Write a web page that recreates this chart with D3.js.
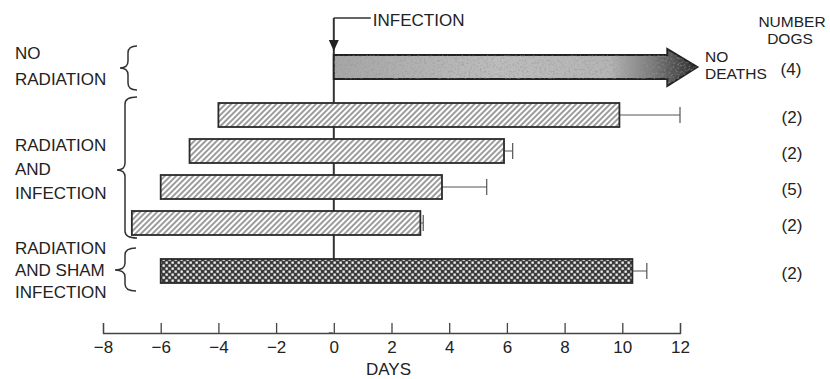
<!DOCTYPE html>
<html>
<head>
  <meta charset="UTF-8">
  <title>Survival of dogs</title>
  <script src="https://d3js.org/d3.v7.min.js"></script>
  <style>
    body {
      margin: 0;
      background: #fff;
      font-family: "Liberation Sans", Arial, sans-serif;
    }
    text {
      fill: #222;
      font-size: 17px;
    }
    .small {
      font-size: 15.5px;
    }
    .bar {
      stroke: #2a2a2a;
      stroke-width: 1.8;
    }
    .err {
      stroke: #555;
      stroke-width: 1.2;
    }
    .x-axis path, .x-axis line {
      stroke: #444;
      stroke-width: 1.3;
    }
    .x-axis text {
      font-size: 17px;
      fill: #222;
    }
    .brace {
      fill: none;
      stroke: #333;
      stroke-width: 1.5;
    }
  </style>
</head>
<body>
  <svg id="chart" width="830" height="379"></svg>
  <script>
    // rows from top to bottom
    const rowGroup = [0, 1, 1, 1, 1, 2];
    const barStart = [0, -4, -5, -6, -7, -6];
    const barEnd = [12.6, 9.9, 5.9, 3.75, 3.0, 10.35];
    const errEnd = [null, 12.0, 6.2, 5.3, 3.1, 10.85];
    const dogs = [4, 2, 2, 5, 2, 2];

    const groupLabels = [
      ["NO", "RADIATION"],
      ["RADIATION", "AND", "INFECTION"],
      ["RADIATION", "AND SHAM", "INFECTION"]
    ];
    const xTicks = [-8, -6, -4, -2, 0, 2, 4, 6, 8, 10, 12];

    const svg = d3.select("#chart");

    const x = d3.scaleLinear().domain([-8, 12]).range([103, 680]);
    // row index plus a third of a row per group gap
    const yRow = d3.scaleLinear().domain([0, 1]).range([67, 103]);
    const rowY = i => yRow(i + rowGroup[i] / 3);
    const barH = 24;

    const defs = svg.append("defs");

    const hatch = defs.append("pattern")
      .attr("id", "hatch")
      .attr("patternUnits", "userSpaceOnUse")
      .attr("width", 4).attr("height", 4)
      .attr("patternTransform", "rotate(45)");
    hatch.append("rect").attr("width", 4).attr("height", 4).attr("fill", "#fff");
    hatch.append("line")
      .attr("x1", 1).attr("y1", 0).attr("x2", 1).attr("y2", 4)
      .attr("stroke", "#4a4a4a").attr("stroke-width", 1.1);

    const checks = defs.append("pattern")
      .attr("id", "checks")
      .attr("patternUnits", "userSpaceOnUse")
      .attr("width", 6).attr("height", 6);
    checks.append("rect").attr("width", 6).attr("height", 6).attr("fill", "#3c3c3c");
    checks.append("rect").attr("x", 0.5).attr("y", 0.5).attr("width", 2.3).attr("height", 2.3).attr("fill", "#f2f2f2");
    checks.append("rect").attr("x", 3.5).attr("y", 3.5).attr("width", 2.3).attr("height", 2.3).attr("fill", "#f2f2f2");

    const grad = defs.append("linearGradient")
      .attr("id", "arrowGrad")
      .attr("x1", "0%").attr("x2", "100%");
    grad.append("stop").attr("offset", "0%").attr("stop-color", "#a6a6a6");
    grad.append("stop").attr("offset", "45%").attr("stop-color", "#bdbdbd");
    grad.append("stop").attr("offset", "76%").attr("stop-color", "#b5b5b5");
    grad.append("stop").attr("offset", "88%").attr("stop-color", "#787878");
    grad.append("stop").attr("offset", "100%").attr("stop-color", "#2a2a2a");

    const noise = defs.append("filter").attr("id", "speckle")
      .attr("x", 0).attr("y", 0).attr("width", "100%").attr("height", "100%");
    noise.append("feTurbulence")
      .attr("type", "fractalNoise").attr("baseFrequency", 0.45)
      .attr("numOctaves", 3).attr("seed", 5).attr("result", "t");
    noise.append("feColorMatrix")
      .attr("in", "t").attr("type", "matrix")
      .attr("values", "0 0 0 0 0.3  0 0 0 0 0.3  0 0 0 0 0.3  1.6 0 0 0 -0.75")
      .attr("result", "n");
    noise.append("feComposite").attr("in", "n").attr("in2", "SourceGraphic").attr("operator", "in");

    // zero line (infection day)
    svg.append("line")
      .attr("x1", x(0)).attr("x2", x(0))
      .attr("y1", 18).attr("y2", rowY(5) - barH / 2)
      .attr("stroke", "#333").attr("stroke-width", 2);

    // infection leader
    svg.append("line")
      .attr("x1", x(0)).attr("x2", x(0) + 37)
      .attr("y1", 18).attr("y2", 18)
      .attr("stroke", "#333").attr("stroke-width", 1.3);
    svg.append("path")
      .attr("d", `M${x(0) - 5},40 L${x(0) + 5},40 L${x(0)},51 Z`)
      .attr("fill", "#222");
    svg.append("text")
      .attr("x", x(0) + 39).attr("y", 26)
      .text("INFECTION");

    // arrow for the no radiation row
    const ay = rowY(0);
    const tip = x(barEnd[0]);
    const hb = tip - 30;
    const arrowD = `M${x(barStart[0])},${ay - barH / 2} L${hb},${ay - barH / 2} L${hb},${ay - 18}
      L${tip},${ay} L${hb},${ay + 19} L${hb},${ay + barH / 2} L${x(barStart[0])},${ay + barH / 2} Z`;
    svg.append("path").attr("d", arrowD)
      .attr("fill", "url(#arrowGrad)").attr("stroke", "#222").attr("stroke-width", 2)
      .attr("stroke-linejoin", "miter");
    defs.append("clipPath").attr("id", "arrowClip").append("path").attr("d", arrowD);
    svg.append("rect")
      .attr("x", x(0)).attr("y", ay - 20)
      .attr("width", tip - x(0)).attr("height", 40)
      .attr("clip-path", "url(#arrowClip)")
      .attr("fill", "#888")
      .attr("filter", "url(#speckle)");

    // bars
    const rows = d3.range(1, barStart.length);
    svg.selectAll(".err")
      .data(rows)
      .enter()
      .append("path")
      .attr("class", "err")
      .attr("fill", "none")
      .attr("d", i => `M${x(barEnd[i])},${rowY(i)} H${x(errEnd[i])} M${x(errEnd[i])},${rowY(i) - 8} V${rowY(i) + 8}`);

    svg.selectAll(".bar")
      .data(rows)
      .enter()
      .append("rect")
      .attr("class", "bar")
      .attr("x", i => x(barStart[i]))
      .attr("y", i => rowY(i) - barH / 2)
      .attr("width", i => x(barEnd[i]) - x(barStart[i]))
      .attr("height", barH)
      .attr("fill", i => rowGroup[i] === 2 ? "url(#checks)" : "url(#hatch)");

    // NO DEATHS
    svg.append("text").attr("class", "small").attr("x", 705).attr("y", 62).text("NO");
    svg.append("text").attr("class", "small").attr("x", 705).attr("y", 79).text("DEATHS");

    // number of dogs
    svg.append("text").attr("class", "small").attr("x", 792).attr("y", 27).attr("text-anchor", "middle").text("NUMBER");
    svg.append("text").attr("class", "small").attr("x", 790).attr("y", 44).attr("text-anchor", "middle").text("DOGS");
    svg.selectAll(".count")
      .data(d3.range(dogs.length))
      .enter()
      .append("text")
      .attr("class", "count")
      .attr("x", i => i === 0 ? 791 : 792)
      .attr("y", i => rowY(i) + 2)
      .attr("dy", "0.35em")
      .attr("text-anchor", "middle")
      .text(i => `(${dogs[i]})`);

    // group labels and braces
    const labelBase = [[59, 85], [151, 175, 199], [254, 276, 298]];
    groupLabels.forEach((lines, g) => {
      lines.forEach((t, k) => {
        svg.append("text").attr("x", 15).attr("y", labelBase[g][k]).text(t);
      });
    });

    const brace = (xArm, xMid, xTip, yTop, yTip, yBot) => {
      const r = 7;
      return `M${xArm},${yTop} Q${xMid},${yTop} ${xMid},${yTop + r} L${xMid},${yTip - r}
        Q${xMid},${yTip} ${xTip},${yTip} Q${xMid},${yTip} ${xMid},${yTip + r}
        L${xMid},${yBot - r} Q${xMid},${yBot} ${xArm},${yBot}`;
    };
    const braceSpec = [
      [137, 128, 120, 46, 68, 90],
      [137, 125, 117, 97, 170, 238],
      [136, 125, 115, 248, 270, 291]
    ];
    svg.selectAll(".brace")
      .data(braceSpec)
      .enter()
      .append("path")
      .attr("class", "brace")
      .attr("d", d => brace(...d));

    // axis: ticks point up, labels below
    const axis = d3.axisBottom(x)
      .tickValues(xTicks)
      .tickSizeInner(-10)
      .tickSizeOuter(-10)
      .tickPadding(8);
    const gx = svg.append("g")
      .attr("class", "x-axis")
      .attr("transform", "translate(0,333)")
      .call(axis);
    gx.selectAll("text").style("font-family", "'Liberation Sans', Arial, sans-serif");
    // small break in the axis line just left of zero
    gx.append("line")
      .attr("x1", x(0) - 5).attr("x2", x(0) - 1)
      .attr("y1", 0).attr("y2", 0)
      .attr("stroke", "#fff").attr("stroke-width", 3);

    svg.append("text")
      .attr("x", x(2) - 3).attr("y", 375)
      .attr("text-anchor", "middle")
      .text("DAYS");
  </script>
</body>
</html>
